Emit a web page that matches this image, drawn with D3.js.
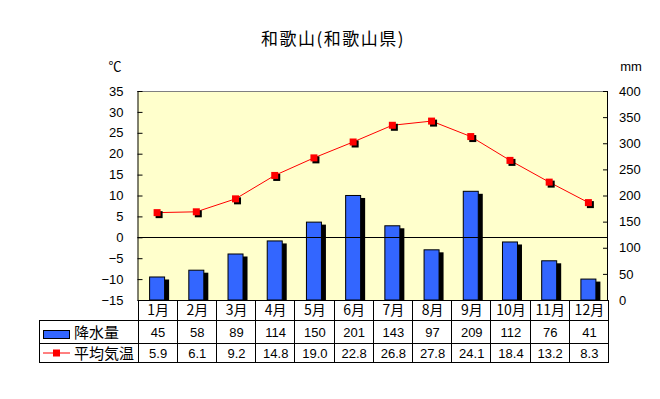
<!DOCTYPE html>
<html>
<head>
<meta charset="utf-8">
<script src="https://cdn.jsdelivr.net/npm/d3@7"></script>
<style>
  body { margin: 0; background: #fff; }
</style>
</head>
<body>
<div id="chart"></div>
<script>
const months = ['1月', '2月', '3月', '4月', '5月', '6月', '7月', '8月', '9月', '10月', '11月', '12月']
const rainfall = [45, 58, 89, 114, 150, 201, 143, 97, 209, 112, 76, 41]
const temperature = [5.9, 6.1, 9.2, 14.8, 19.0, 22.8, 26.8, 27.8, 24.1, 18.4, 13.2, 8.3]
const tempTicks = [-15, -10, -5, 0, 5, 10, 15, 20, 25, 30, 35]
const rainTicks = [0, 50, 100, 150, 200, 250, 300, 350, 400]

const width = 660, height = 399
const plot = {left: 137.5, right: 608, top: 91, bottom: 300}
const rowBottoms = [320, 343, 362]
const tableLeft = 39
const JP = '"Noto Sans CJK JP", sans-serif'
const NUM = '"Liberation Sans", Arial, sans-serif'

const svg = d3.select('#chart').append('svg')
    .attr('width', width)
    .attr('height', height)

const x = d3.scaleBand()
    .domain(months)
    .range([plot.left, plot.right])

const yTemp = d3.scaleLinear().domain([-15, 35]).range([plot.bottom, plot.top])
const yRain = d3.scaleLinear().domain([0, 400]).range([plot.bottom, plot.top])

// Title
svg.append('text')
    .attr('x', 333).attr('y', 45)
    .attr('text-anchor', 'middle')
    .attr('font-size', 17)
    .attr('letter-spacing', 1.5)
    .attr('font-family', JP)
    .text('和歌山(和歌山県)')

// Plot background
svg.append('rect')
    .attr('x', plot.left).attr('y', plot.top)
    .attr('width', plot.right - plot.left).attr('height', plot.bottom - plot.top)
    .attr('fill', '#ffffcc')
svg.append('line')
    .attr('x1', plot.left).attr('x2', plot.right)
    .attr('y1', plot.top + 0.5).attr('y2', plot.top + 0.5)
    .attr('stroke', '#808080')

// Bars with shadow
const barW = 16
const bars = svg.append('g')
bars.selectAll('.shadow')
    .data(rainfall)
    .join('rect')
    .attr('class', 'shadow')
    .attr('x', (d, i) => x(months[i]) + x.bandwidth() / 2 - barW / 2 + 4)
    .attr('y', d => yRain(d) + 3)
    .attr('width', barW)
    .attr('height', d => plot.bottom - yRain(d) - 3)
    .attr('fill', '#000')
bars.selectAll('.bar')
    .data(rainfall)
    .join('rect')
    .attr('class', 'bar')
    .attr('x', (d, i) => x(months[i]) + x.bandwidth() / 2 - barW / 2 + 0.5)
    .attr('y', d => yRain(d) + 0.5)
    .attr('width', barW - 1)
    .attr('height', d => plot.bottom - yRain(d) - 0.5)
    .attr('fill', '#3366ff')
    .attr('stroke', '#000')

// Zero line
svg.append('line')
    .attr('x1', plot.left).attr('x2', plot.right)
    .attr('y1', Math.round(yTemp(0)) + 0.5).attr('y2', Math.round(yTemp(0)) + 0.5)
    .attr('stroke', '#000')

// Temperature line
const cx = (d, i) => x(months[i]) + x.bandwidth() / 2
const line = d3.line().x(cx).y(d => yTemp(d))
svg.append('path')
    .datum(temperature)
    .attr('d', line)
    .attr('fill', 'none')
    .attr('stroke', '#ff0000')
    .attr('stroke-width', 1)
const mk = 7
svg.selectAll('.mshadow')
    .data(temperature)
    .join('rect')
    .attr('class', 'mshadow')
    .attr('x', (d, i) => cx(d, i) - mk / 2 + 2)
    .attr('y', d => yTemp(d) - mk / 2 + 2)
    .attr('width', mk).attr('height', mk)
    .attr('fill', '#000')
svg.selectAll('.marker')
    .data(temperature)
    .join('rect')
    .attr('class', 'marker')
    .attr('x', (d, i) => cx(d, i) - mk / 2)
    .attr('y', d => yTemp(d) - mk / 2)
    .attr('width', mk).attr('height', mk)
    .attr('fill', '#ff0000')

// Axes
const leftAxis = d3.axisRight(yTemp)
    .tickValues(tempTicks)
    .tickSize(5)
    .tickFormat(d => d < 0 ? '−' + Math.abs(d) : d)
const gl = svg.append('g')
    .attr('transform', `translate(${plot.left},0)`)
    .call(leftAxis)
gl.select('.domain').remove()
gl.attr('font-family', NUM).attr('font-size', 13)
gl.selectAll('.tick text')
    .attr('x', -14)
    .attr('text-anchor', 'end')
gl.append('line')
    .attr('x1', 0.5).attr('x2', 0.5)
    .attr('y1', plot.top).attr('y2', plot.bottom)
    .attr('stroke', '#000')

const rightAxis = d3.axisLeft(yRain)
    .tickValues(rainTicks)
    .tickSize(5)
const gr = svg.append('g')
    .attr('transform', `translate(${plot.right},0)`)
    .call(rightAxis)
gr.select('.domain').remove()
gr.attr('font-family', NUM).attr('font-size', 13)
gr.selectAll('.tick text')
    .attr('x', 11)
    .attr('text-anchor', 'start')
gr.append('line')
    .attr('x1', -0.5).attr('x2', -0.5)
    .attr('y1', plot.top).attr('y2', plot.bottom)
    .attr('stroke', '#000')

svg.append('text')
    .attr('x', 115).attr('y', 71)
    .attr('text-anchor', 'middle')
    .attr('font-size', 13)
    .attr('font-family', JP)
    .text('℃')
svg.append('text')
    .attr('x', 631).attr('y', 71)
    .attr('text-anchor', 'middle')
    .attr('font-size', 13)
    .attr('font-family', NUM)
    .text('mm')

// Data table
const table = svg.append('g')
const hl = (x1, x2, y) => table.append('line')
    .attr('x1', x1).attr('x2', x2).attr('y1', y + 0.5).attr('y2', y + 0.5).attr('stroke', '#000')
const vl = (xv, y1, y2) => table.append('line')
    .attr('x1', xv + 0.5).attr('x2', xv + 0.5).attr('y1', y1).attr('y2', y2).attr('stroke', '#000')

hl(plot.left, plot.right + 1, plot.bottom)
hl(tableLeft, plot.right + 1, rowBottoms[0])
hl(tableLeft, plot.right + 1, rowBottoms[1])
hl(tableLeft, plot.right + 1, rowBottoms[2])
vl(tableLeft, rowBottoms[0], rowBottoms[2] + 1)
months.forEach(m => vl(Math.round(x(m)), plot.bottom, rowBottoms[2] + 1))
vl(Math.round(plot.right), plot.bottom, rowBottoms[2] + 1)

const rowMid = [(plot.bottom + rowBottoms[0]) / 2, (rowBottoms[0] + rowBottoms[1]) / 2, (rowBottoms[1] + rowBottoms[2]) / 2]
const rows = [months, rainfall.map(String), temperature.map(d => d.toFixed(1))]
rows.forEach((vals, r) => {
    table.selectAll(`.cell${r}`)
        .data(vals)
        .join('text')
        .attr('class', `cell${r}`)
        .attr('x', (d, i) => x(months[i]) + x.bandwidth() / 2 + 1)
        .attr('y', rowMid[r] + 5)
        .attr('text-anchor', 'middle')
        .attr('font-size', r === 0 ? 14 : 13)
        .attr('font-family', r === 0 ? JP : NUM)
        .text(d => d)
})

// Legend entries inside the table
table.append('rect')
    .attr('x', 43.5).attr('y', 330.5)
    .attr('width', 26).attr('height', 8)
    .attr('fill', '#3366ff').attr('stroke', '#000')
table.append('text')
    .attr('x', 74).attr('y', rowMid[1] + 6)
    .attr('font-size', 15)
    .attr('font-family', JP)
    .text('降水量')
table.append('line')
    .attr('x1', 43).attr('x2', 70)
    .attr('y1', rowMid[2] + 0.5).attr('y2', rowMid[2] + 0.5)
    .attr('stroke', '#ff0000')
table.append('rect')
    .attr('x', 53).attr('y', rowMid[2] - 3)
    .attr('width', 7).attr('height', 7)
    .attr('fill', '#ff0000')
table.append('text')
    .attr('x', 74).attr('y', rowMid[2] + 6)
    .attr('font-size', 15)
    .attr('font-family', JP)
    .text('平均気温')
</script>
</body>
</html>
